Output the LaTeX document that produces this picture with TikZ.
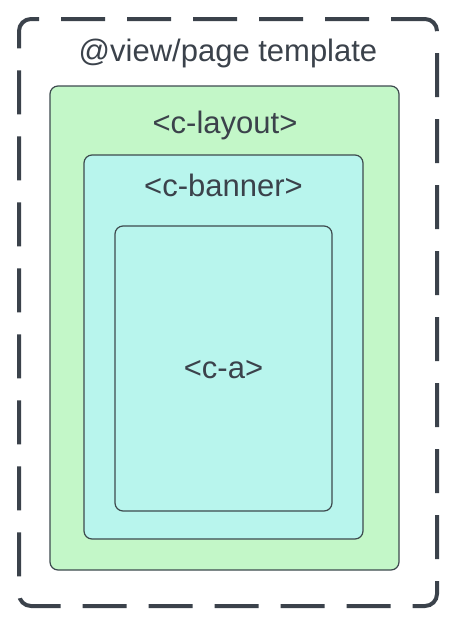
\documentclass[tikz,border=0pt]{standalone}
\usepackage{fontspec}
\setmainfont{Liberation Sans}
\definecolor{ink}{HTML}{3B424B}
\definecolor{edge}{HTML}{3D4A4E}
\definecolor{layoutgreen}{HTML}{C3F7C8}
\definecolor{bannercyan}{HTML}{B8F5ED}
\tikzset{
  box/.style={draw=edge, line width=1.2pt, rounded corners=8pt, inner sep=0pt},
  tag/.style={text=ink, font=\fontsize{31}{37}\selectfont, inner sep=0pt, anchor=base},
}
\begin{document}
\begin{tikzpicture}[x=1pt,y=-1pt]
\useasboundingbox (0,0) rectangle (454,622);
\node[draw=ink, line width=4pt, dash pattern=on 44pt off 22pt, dash phase=10pt, rounded corners=12pt, minimum width=418pt, minimum height=587pt, inner sep=0pt] (page) at (228,312.5) {};
\node[box, fill=layoutgreen, minimum width=349pt, minimum height=484pt] (layout) at (224.5,328) {};
\node[box, fill=bannercyan, minimum width=279pt, minimum height=384pt] (banner) at (223.5,347) {};
\node[box, fill=bannercyan, minimum width=217pt, minimum height=285pt] (ca) at (223.5,368.5) {};
\node[tag] (pagetitle) at (228,61) {@view/page template};
\node[tag] (layouttitle) at (225,133) {<c-layout>};
\node[tag] (bannertitle) at (223.5,196) {<c-banner>};
\node[tag] (catitle) at (223.5,378) {<c-a>};
\end{tikzpicture}
\end{document}
